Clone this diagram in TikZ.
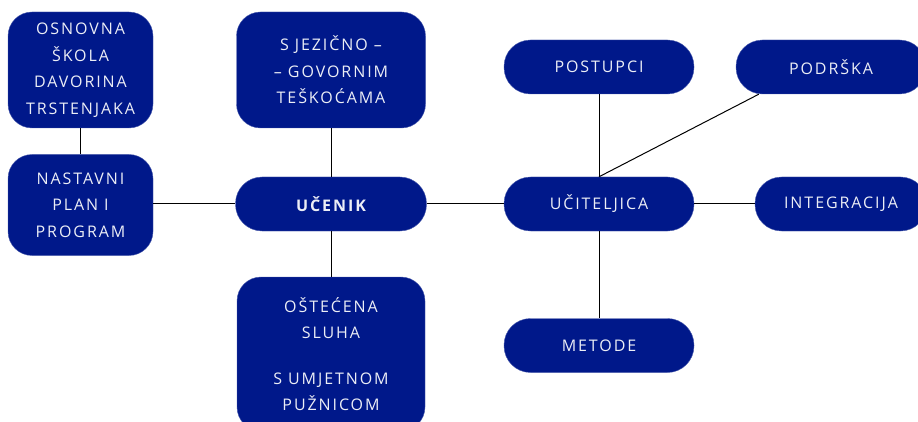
\documentclass[tikz,border=0pt]{standalone}
\usepackage{fontspec}
\usepackage{xcolor}
\usepackage{tikz}
\usetikzlibrary{shapes,positioning}
\newfontfamily\boxfont[LetterSpace=12]{Open Sans}
\definecolor{boxblue}{HTML}{00188A}
\definecolor{boxtext}{HTML}{ECEEF6}

\begin{document}
\begin{tikzpicture}[x=1pt,y=-1pt,
    tile/.style={rectangle, rounded corners=24pt, fill=boxblue, draw=boxblue!70!white, line width=0.4pt,
        text=boxtext, align=center, inner sep=0pt,
        font=\boxfont\fontsize{16}{26.5}\selectfont},
    pill/.style={tile, rounded corners=26.5pt, minimum height=54pt},
    link/.style={draw=black, line width=1pt}]
    \clip (0,0) rectangle (918,422);
    % left column
    \node[tile, minimum width=145pt, minimum height=116pt] (skola) at (80.5,70)
        {OSNOVNA\\ŠKOLA\\DAVORINA\\TRSTENJAKA};
    \node[tile, minimum width=145pt, minimum height=101pt] (plan) at (80.5,205)
        {NASTAVNI\\PLAN I\\PROGRAM};
    % pupil
    \node[pill, minimum width=191pt, font=\boxfont\bfseries\fontsize{16}{26.5}\selectfont] (ucenik) at (331,204) {UČENIK};
    \node[tile, minimum width=189pt, minimum height=116pt] (jezik) at (331,70)
        {S JEZIČNO –\\– GOVORNIM\\TEŠKOĆAMA};
    \node[tile, minimum width=188pt, minimum height=154pt] (sluh) at (331,354)
        {OŠTEĆENA\\SLUHA\\[19pt]S UMJETNOM\\PUŽNICOM};
    % teacher
    \node[pill, minimum width=190pt] (uciteljica) at (599,204) {UČITELJICA};
    \node[pill, minimum width=190pt] (postupci) at (599,67) {POSTUPCI};
    \node[pill, minimum width=190pt] (podrska) at (831,67) {PODRŠKA};
    \node[pill, minimum width=172pt] (integracija) at (841,204) {INTEGRACIJA};
    \node[pill, minimum width=190pt] (metode) at (599,345.5) {METODE};
    \coordinate (podrskaend) at ([xshift=23pt]podrska.south west);

    % connectors
    \draw[link] (skola) -- (plan);
    \draw[link] (ucenik.west -| plan.east) -- (ucenik);
    \draw[link] (jezik) -- (ucenik);
    \draw[link] (ucenik) -- (sluh);
    \draw[link] (ucenik) -- (uciteljica);
    \draw[link] (uciteljica) -- (postupci);
    \draw[link] (uciteljica.north) -- (podrskaend);
    \draw[link] (uciteljica) -- (integracija);
    \draw[link] (uciteljica) -- (metode);
\end{tikzpicture}
\end{document}
